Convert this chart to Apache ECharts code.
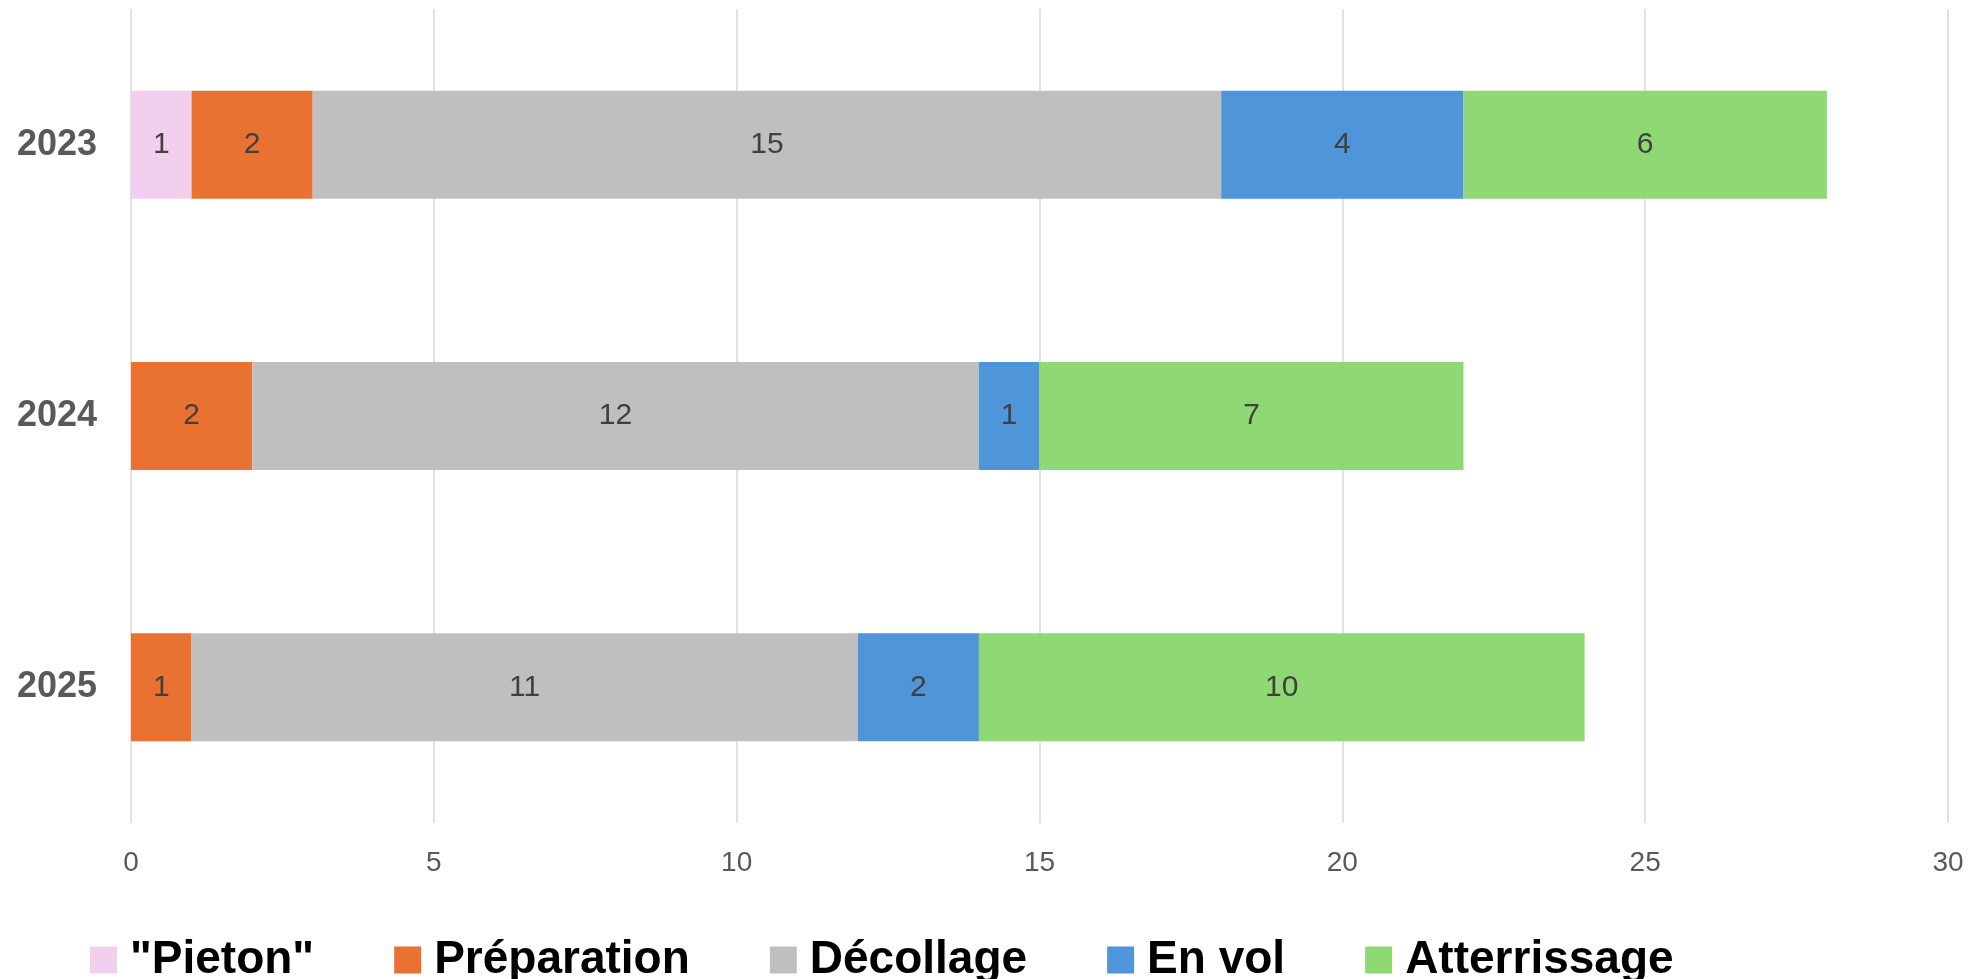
<!DOCTYPE html>
<html>
<head>
<meta charset="utf-8">
<script src="https://cdn.jsdelivr.net/npm/echarts@6/dist/echarts.min.js"></script>
<style>html,body{margin:0;padding:0;background:#fff}#c{width:1970px;height:979px}</style>
</head>
<body>
<div id="c"></div>
<script>
const years = ['2023', '2024', '2025'];
const pieton = [1, null, null];
const preparation = [2, 2, 1];
const decollage = [15, 12, 11];
const envol = [4, 1, 2];
const atterrissage = [6, 7, 10];
const xTicks = [0, 5, 10, 15, 20, 25, 30];

const seriesDefs = [
  { name: '"Pieton"', data: pieton, color: '#F2CEEF' },
  { name: 'Préparation', data: preparation, color: '#E97132' },
  { name: 'Décollage', data: decollage, color: '#BFBFBF' },
  { name: 'En vol', data: envol, color: '#4E95D9' },
  { name: 'Atterrissage', data: atterrissage, color: '#8ED973' }
];

const chart = echarts.init(document.getElementById('c'));
chart.setOption({
  animation: false,
  backgroundColor: '#fff',
  grid: { left: 131, right: 22, top: 9, bottom: 156, containLabel: false },
  legend: {
    left: 85, top: 929,
    itemWidth: 27, itemHeight: 27, itemGap: 80,
    icon: 'rect',
    textStyle: { fontFamily: 'Liberation Sans, Arial, sans-serif', fontSize: 46, lineHeight: 52, fontWeight: 'bold', color: '#000', padding: [0, 0, 0, 8] },
    data: seriesDefs.map(s => s.name)
  },
  xAxis: {
    type: 'value', min: xTicks[0], max: xTicks[xTicks.length - 1], interval: 5,
    axisLine: { show: false }, axisTick: { show: false },
    splitLine: { show: true, lineStyle: { color: '#D9D9D9', width: 1.5 } },
    axisLabel: { margin: 26, fontFamily: 'Liberation Sans, Arial, sans-serif', fontSize: 28, color: '#595959' }
  },
  yAxis: {
    type: 'category', data: years, inverse: true,
    axisLine: { show: false }, axisTick: { show: false },
    axisLabel: { margin: 34, fontFamily: 'Liberation Sans, Arial, sans-serif', fontSize: 36, fontWeight: 'bold', color: '#595959' }
  },
  series: seriesDefs.map(s => ({
    name: s.name, type: 'bar', stack: 'total', data: s.data,
    barWidth: 108,
    itemStyle: { color: s.color },
    label: {
      show: true, position: 'inside',
      fontFamily: 'Liberation Sans, Arial, sans-serif', fontSize: 30, color: '#404040',
      formatter: p => (p.value == null ? '' : p.value)
    }
  }))
});
</script>
</body>
</html>
